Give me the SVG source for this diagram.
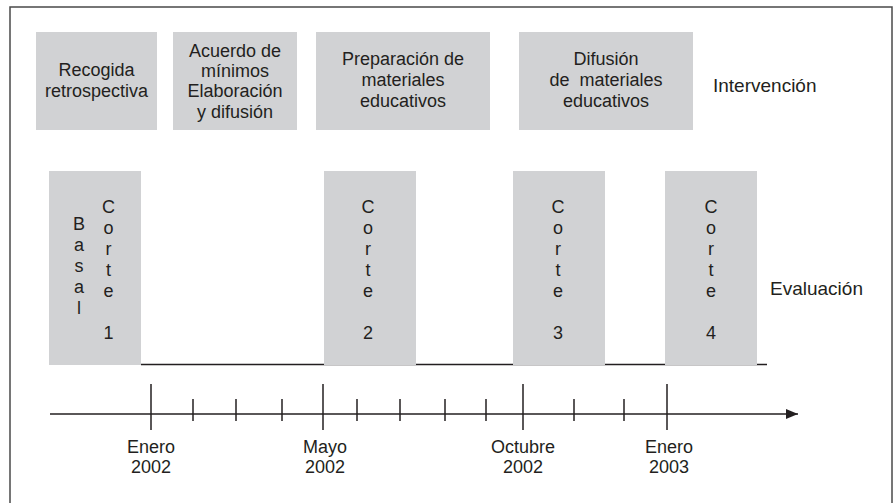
<svg xmlns="http://www.w3.org/2000/svg" width="894" height="503" viewBox="0 0 894 503">
<defs>
<style>
.box{fill:#d1d2d4;}
.t{font-family:"Liberation Sans",Arial,sans-serif;font-size:18px;fill:#231f20;text-anchor:middle;}
.s{font-family:"Liberation Sans",Arial,sans-serif;font-size:19px;fill:#231f20;}
.ln{stroke:#231f20;stroke-width:1.5;fill:none;}
</style>
<marker id="arr" markerWidth="12" markerHeight="10" refX="12" refY="5" orient="auto" markerUnits="userSpaceOnUse">
<path d="M0,0 L12,5 L0,10 Z" fill="#231f20"/>
</marker>
</defs>
<rect x="0" y="0" width="894" height="503" fill="#ffffff"/>
<rect id="frame" x="10" y="7" width="882" height="505" fill="none" stroke="#4a4a4a" stroke-width="1.5"/>
<g id="connectors">
<line class="ln" x1="141" y1="364.5" x2="767" y2="364.5"/>
<line class="ln" x1="50" y1="414" x2="798" y2="414" marker-end="url(#arr)"/>
<line class="ln" x1="151" y1="384" x2="151" y2="430"/>
<line class="ln" x1="323" y1="384" x2="323" y2="430"/>
<line class="ln" x1="523" y1="384" x2="523" y2="430"/>
<line class="ln" x1="667" y1="384" x2="667" y2="430"/>
<line class="ln" x1="193" y1="399" x2="193" y2="421"/>
<line class="ln" x1="236" y1="399" x2="236" y2="421"/>
<line class="ln" x1="282" y1="399" x2="282" y2="421"/>
<line class="ln" x1="357" y1="399" x2="357" y2="421"/>
<line class="ln" x1="400" y1="399" x2="400" y2="421"/>
<line class="ln" x1="445" y1="399" x2="445" y2="421"/>
<line class="ln" x1="486" y1="399" x2="486" y2="421"/>
<line class="ln" x1="574" y1="399" x2="574" y2="421"/>
<line class="ln" x1="624" y1="399" x2="624" y2="421"/>
</g>
<g id="recogida">
<rect class="box" x="36" y="32" width="121" height="98"/>
<text class="t" x="96.5" y="76">Recogida</text>
<text class="t" x="96.5" y="97">retrospectiva</text>
</g>
<g id="acuerdo">
<rect class="box" x="173" y="32" width="124" height="98"/>
<text class="t" x="235" y="56.5">Acuerdo de</text>
<text class="t" x="235" y="77">mínimos</text>
<text class="t" x="235" y="97">Elaboración</text>
<text class="t" x="235" y="117.5">y difusión</text>
</g>
<g id="preparacion">
<rect class="box" x="316" y="32" width="174" height="98"/>
<text class="t" x="403" y="65">Preparación de</text>
<text class="t" x="403" y="86">materiales</text>
<text class="t" x="403" y="107">educativos</text>
</g>
<g id="difusion">
<rect class="box" x="519" y="32" width="174" height="98"/>
<text class="t" x="606" y="65">Difusión</text>
<text class="t" x="606" y="86" xml:space="preserve">de  materiales</text>
<text class="t" x="606" y="107">educativos</text>
</g>
<g id="intervencion">
<text class="s" x="713" y="92">Intervención</text>
</g>
<g id="basal-corte1">
<rect class="box" x="49" y="171" width="92" height="194"/>
<text class="t" x="79" y="230">B</text>
<text class="t" x="79" y="251">a</text>
<text class="t" x="79" y="272">s</text>
<text class="t" x="79" y="293">a</text>
<text class="t" x="79" y="314">l</text>
<text class="t" x="108.5" y="213">C</text>
<text class="t" x="108.5" y="234">o</text>
<text class="t" x="108.5" y="255">r</text>
<text class="t" x="108.5" y="276">t</text>
<text class="t" x="108.5" y="297">e</text>
<text class="t" x="108.5" y="339">1</text>
</g>
<g id="corte2">
<rect class="box" x="324" y="171" width="92" height="194"/>
<text class="t" x="368" y="213">C</text>
<text class="t" x="368" y="234">o</text>
<text class="t" x="368" y="255">r</text>
<text class="t" x="368" y="276">t</text>
<text class="t" x="368" y="297">e</text>
<text class="t" x="368" y="339">2</text>
</g>
<g id="corte3">
<rect class="box" x="513" y="171" width="92" height="194"/>
<text class="t" x="558" y="213">C</text>
<text class="t" x="558" y="234">o</text>
<text class="t" x="558" y="255">r</text>
<text class="t" x="558" y="276">t</text>
<text class="t" x="558" y="297">e</text>
<text class="t" x="558" y="339">3</text>
</g>
<g id="corte4">
<rect class="box" x="665" y="171" width="92" height="194"/>
<text class="t" x="711" y="213">C</text>
<text class="t" x="711" y="234">o</text>
<text class="t" x="711" y="255">r</text>
<text class="t" x="711" y="276">t</text>
<text class="t" x="711" y="297">e</text>
<text class="t" x="711" y="339">4</text>
</g>
<g id="evaluacion">
<text class="s" x="770" y="295">Evaluación</text>
</g>
<g id="labels">
<text class="t" x="151" y="453">Enero</text>
<text class="t" x="151" y="473">2002</text>
<text class="t" x="325" y="453">Mayo</text>
<text class="t" x="325" y="473">2002</text>
<text class="t" x="523" y="453">Octubre</text>
<text class="t" x="523" y="473">2002</text>
<text class="t" x="669" y="453">Enero</text>
<text class="t" x="669" y="473">2003</text>
</g>
</svg>
